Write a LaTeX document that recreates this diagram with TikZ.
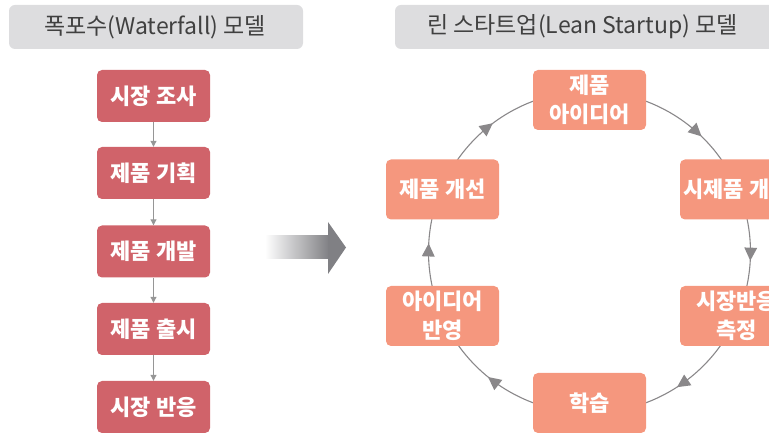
\documentclass[tikz,border=0pt]{standalone}
\usepackage{fontspec}
\setmainfont{Noto Sans CJK KR}
\usetikzlibrary{arrows.meta,decorations.markings}
\definecolor{wf}{RGB}{208,99,106}
\definecolor{ls}{RGB}{245,151,126}
\definecolor{tbg}{RGB}{221,221,223}
\definecolor{ttx}{RGB}{64,64,64}
\definecolor{ln}{RGB}{138,136,138}
\definecolor{wfln}{RGB}{150,150,150}
\definecolor{bigc}{RGB}{128,128,132}
\begin{document}
\begin{tikzpicture}[x=1pt,y=1pt,
  titlebox/.style={fill=tbg, rounded corners=6pt, inner sep=0pt},
  titletext/.style={text=ttx, font=\fontsize{23}{27}\selectfont, inner sep=0pt},
  wfbox/.style={fill=wf, rounded corners=5pt, minimum width=113pt, minimum height=52pt, text=white, font=\fontsize{22}{26}\selectfont\bfseries, inner sep=0pt},
  lsbox/.style={fill=ls, rounded corners=5pt, minimum width=113pt, minimum height=60pt, text=white, font=\fontsize{22}{29}\selectfont\bfseries, align=center, inner sep=0pt},
  wfarrow/.style={draw=wfln, line width=1pt, -{Triangle[length=6pt,width=6pt]}},
  cyc/.style={draw=ln, line width=1.1pt},
  markarrow/.style={postaction={decorate}, decoration={markings, mark=at position #1 with {\fill[ln] (3pt,0pt) -- (-10pt,6.5pt) -- (-10pt,-6.5pt) -- cycle;}}}
]
\useasboundingbox (0,0) rectangle (769,434);
\clip (0,0) rectangle (769,434);

% titles
\node[titlebox, minimum width=294pt, minimum height=44pt] (t1) at (156,407) {};
\node[titletext] (t1txt) at (155,407) {폭포수(Waterfall) 모델};
\node[titlebox, minimum width=410pt, minimum height=44pt] (t2) at (600,407) {};
\node[titletext] (t2txt) at (582.5,407) {린 스타트업(Lean Startup) 모델};

% waterfall
\node[wfbox] (w1) at (153.5,338) {시장 조사};
\node[wfbox] (w2) at (153.5,261) {제품 기획};
\node[wfbox] (w3) at (153.5,182.5) {제품 개발};
\node[wfbox] (w4) at (153.5,105) {제품 출시};
\node[wfbox] (w5) at (153.5,27) {시장 반응};
\draw[wfarrow] (w1) -- (w2);
\draw[wfarrow] (w2) -- (w3);
\draw[wfarrow] (w3) -- (w4);
\draw[wfarrow] (w4) -- (w5);

% big arrow
\shade[left color=white, right color=bigc] (265,175) rectangle (329,198);
\fill[bigc] (328,212) -- (346,186.5) -- (328,160) -- cycle;

% cycle
\coordinate (c) at (589.5,182);
\draw[cyc, markarrow=0.642] (c) ++(90:161) arc[start angle=90, end angle=23, radius=161];
\draw[cyc, markarrow=0.538] (c) ++(23:161) arc[start angle=23, end angle=-23.5, radius=161];
\draw[cyc, markarrow=0.489] (c) ++(-23.5:161) arc[start angle=-23.5, end angle=-90, radius=161];
\draw[cyc, markarrow=0.567] (c) ++(270:161) arc[start angle=270, end angle=203, radius=161];
\draw[cyc, markarrow=0.543] (c) ++(203:161) arc[start angle=203, end angle=157, radius=161];
\draw[cyc, markarrow=0.433] (c) ++(157:161) arc[start angle=157, end angle=90, radius=161];

\node[lsbox] (l1) at (589.5,334) {제품\\아이디어};
\node[lsbox] (l2) at (736.5,244.5) {시제품 개발};
\node[lsbox] (l3) at (736.5,118) {시장반응\\측정};
\node[lsbox] (l4) at (589.5,31) {학습};
\node[lsbox] (l5) at (442.5,118) {아이디어\\반영};
\node[lsbox] (l6) at (442.5,244.5) {제품 개선};
\end{tikzpicture}
\end{document}
